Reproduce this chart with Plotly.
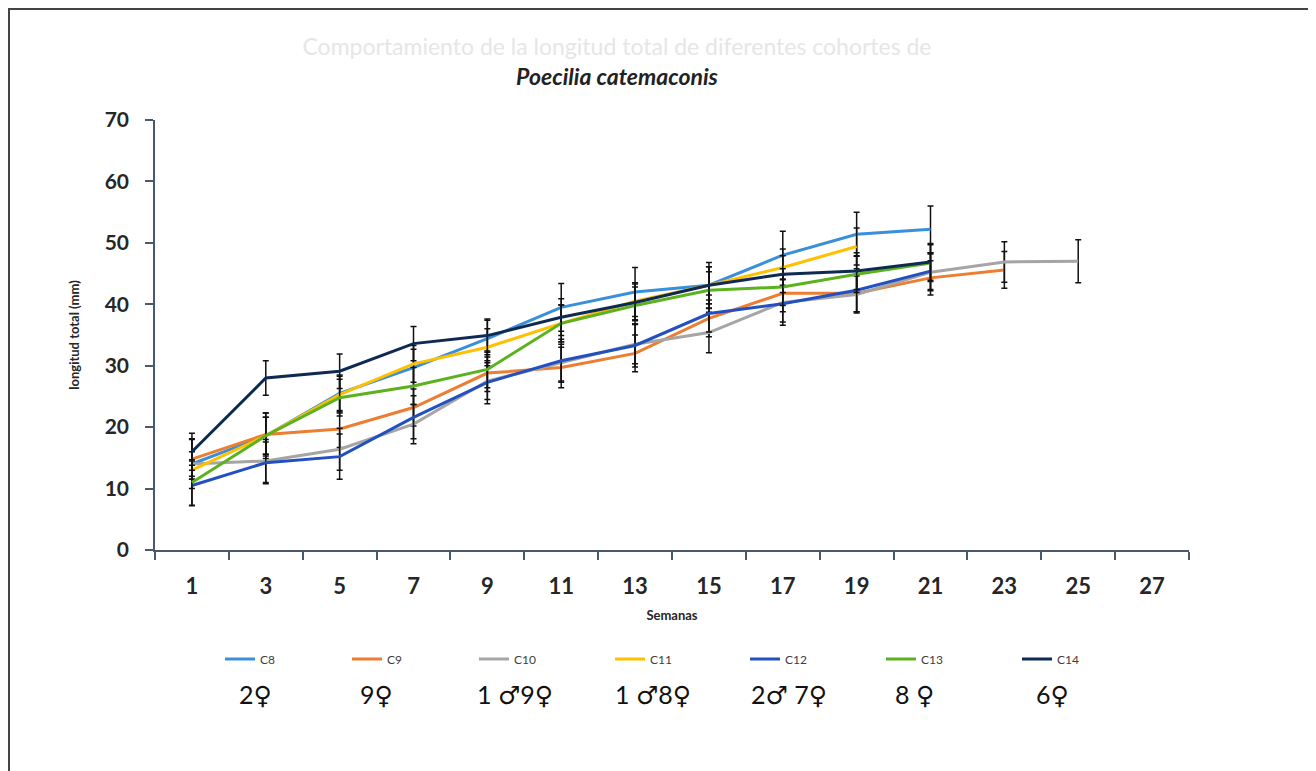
import plotly.graph_objects as go

weeks = ["1", "3", "5", "7", "9", "11", "13", "15", "17", "19", "21", "23", "25", "27"]

series_names = ["C8", "C9", "C10", "C11", "C12", "C13", "C14"]

c8 = [14.0, 18.6, 25.5, 29.7, 34.4, 39.5, 42.0, 43.1, 48.0, 51.4, 52.2]
c9 = [14.8, 18.8, 19.7, 23.2, 28.8, 29.7, 32.0, 37.7, 41.8, 41.8, 44.3, 45.6]
c10 = [14.0, 14.5, 16.4, 20.5, 27.5, 30.5, 33.5, 35.4, 40.3, 41.6, 45.2, 46.9, 47.0]
c11 = [13.0, 18.6, 25.3, 30.3, 33.0, 36.9, 40.5, 43.1, 46.0, 49.4]
c12 = [10.5, 14.2, 15.2, 21.6, 27.3, 30.8, 33.3, 38.5, 40.1, 42.3, 45.4]
c13 = [11.0, 18.6, 24.8, 26.7, 29.4, 36.9, 39.8, 42.3, 42.8, 44.9, 46.7]
c14 = [16.0, 28.0, 29.1, 33.6, 34.9, 37.9, 40.3, 43.1, 44.9, 45.4, 46.9]

e8 = [4.0, 3.7, 3.0, 3.0, 3.0, 3.9, 4.0, 3.7, 3.9, 3.6, 3.8]
e9 = [3.3, 3.5, 3.0, 3.0, 3.0, 3.3, 3.0, 3.0, 3.0, 3.0, 2.8, 3.0]
e10 = [2.0, 3.5, 3.4, 3.2, 3.0, 3.0, 3.2, 3.3, 3.7, 3.0, 3.0, 3.3, 3.5]
e11 = [1.5, 3.0, 3.0, 3.0, 3.0, 3.0, 3.0, 3.0, 3.0, 3.0]
e12 = [3.3, 3.4, 3.7, 3.5, 3.5, 3.5, 3.5, 3.0, 3.0, 3.5, 3.0]
e13 = [3.7, 3.0, 3.0, 3.0, 3.0, 3.0, 3.0, 3.0, 3.0, 3.0, 3.0]
e14 = [3.0, 2.8, 2.8, 2.8, 2.7, 3.0, 3.0, 3.0, 3.0, 3.0, 3.0]

sex_labels = ["2\u2640", "9\u2640", "1 \u26429\u2640", "1 \u26428\u2640", "2\u2642 7\u2640", "8 \u2640", "6\u2640"]

title_line1 = "Comportamiento de la longitud total de diferentes cohortes de"
title_line2 = "Poecilia catemaconis"
x_title = "Semanas"
y_title = "longitud total (mm)"
y_ticks = [0, 10, 20, 30, 40, 50, 60, 70]

values = [c8, c9, c10, c11, c12, c13, c14]
errors = [e8, e9, e10, e11, e12, e13, e14]
colors = ["#3A8FDB", "#ED7D31", "#A5A5A5", "#FFC000", "#2350C0", "#5CB21E", "#0E2A52"]

# layout geometry (figure pixels; page body adds an 8px offset on screen)
OFF = 8
W, H = 1308, 763
L, R, T, B = 147, 1181, 112, 542
pw, ph = R - L, B - T


def px_x(p):
    """screen pixel x -> paper x"""
    return (p - OFF - L) / pw


def px_y(p):
    """screen pixel y -> paper y"""
    return (B - (p - OFF)) / ph


legend_left_px = [220, 347, 474, 610, 745, 881, 1017]
legend_y_px = 659
sex_x_px = [255, 376, 515, 653, 789, 914, 1052]
sex_y_px = 694

font_main = "Lato, Carlito, 'DejaVu Sans', sans-serif"

fig = go.Figure()
for i, name in enumerate(series_names):
    n = len(values[i])
    lg = "legend" if i == 0 else f"legend{i + 1}"
    fig.add_trace(go.Scatter(
        x=weeks[:n], y=values[i], name=name, mode="lines",
        line=dict(color=colors[i], width=3),
        error_y=dict(type="data", array=errors[i], visible=True,
                     color="#111111", thickness=1.5, width=3),
        legend=lg, showlegend=True,
    ))

layout_legends = {}
for i in range(len(series_names)):
    key = "legend" if i == 0 else f"legend{i + 1}"
    layout_legends[key] = dict(
        x=px_x(legend_left_px[i]), xanchor="left",
        y=px_y(legend_y_px), yanchor="middle",
        orientation="h", bgcolor="rgba(0,0,0,0)",
        font=dict(family=font_main, size=12, color="#404040"),
        itemwidth=30, tracegroupgap=0, visible=True,
    )

annotations = []
for i, lab in enumerate(sex_labels):
    annotations.append(dict(
        x=px_x(sex_x_px[i]), y=px_y(sex_y_px), xref="paper", yref="paper",
        text=lab, showarrow=False, xanchor="center", yanchor="middle",
        font=dict(family="Lato, 'DejaVu Sans', sans-serif", size=25, color="#111111"),
    ))

shapes = [
    dict(type="line", xref="paper", yref="paper",
         x0=(1 - L) / pw, x1=(1 - L) / pw, y0=(B - 0) / ph, y1=(B - H) / ph,
         line=dict(color="#444444", width=2)),
    dict(type="line", xref="paper", yref="paper",
         x0=(0 - L) / pw, x1=(W - L) / pw, y0=(B - 1) / ph, y1=(B - 1) / ph,
         line=dict(color="#444444", width=2)),
]

fig.update_layout(
    width=W, height=H, showlegend=True,
    margin=dict(l=L, r=W - R, t=T, b=H - B, pad=0),
    paper_bgcolor="white", plot_bgcolor="white",
    title=dict(
        text=f"<span style='color:#e6e6e6'>{title_line1}</span><br>"
             f"<b><i>{title_line2}</i></b>",
        x=(617 - OFF) / W, xref="container", xanchor="center",
        y=1 - (55 - OFF) / H, yref="container", yanchor="top",
        font=dict(family=font_main, size=23, color="#222222"),
    ),
    annotations=annotations,
    shapes=shapes,
    **layout_legends,
)

axis_col = "#4A5A6C"
fig.update_xaxes(
    type="category", categoryorder="array", categoryarray=weeks,
    range=[-0.5, len(weeks) - 0.5],
    showline=True, linecolor=axis_col, linewidth=1.5,
    ticks="outside", tickson="boundaries", ticklen=8, tickcolor=axis_col, tickwidth=1.5,
    showgrid=False, zeroline=False,
    tickfont=dict(family=font_main, size=22, color="#262626", weight="bold"),
    ticklabelstandoff=16,
    title=dict(text=x_title, standoff=13,
               font=dict(family=font_main, size=13, color="#262626", weight="bold")),
)
fig.update_yaxes(
    range=[0, 70], tickvals=y_ticks,
    showline=True, linecolor=axis_col, linewidth=1.5,
    ticks="outside", ticklen=8, tickcolor=axis_col, tickwidth=1.5,
    showgrid=False, zeroline=False,
    tickfont=dict(family=font_main, size=21, color="#262626", weight="bold"),
    ticklabelstandoff=12,
    title=dict(text=y_title, standoff=22,
               font=dict(family=font_main, size=13, color="#262626", weight="bold")),
)

fig.write_html("out.html")
